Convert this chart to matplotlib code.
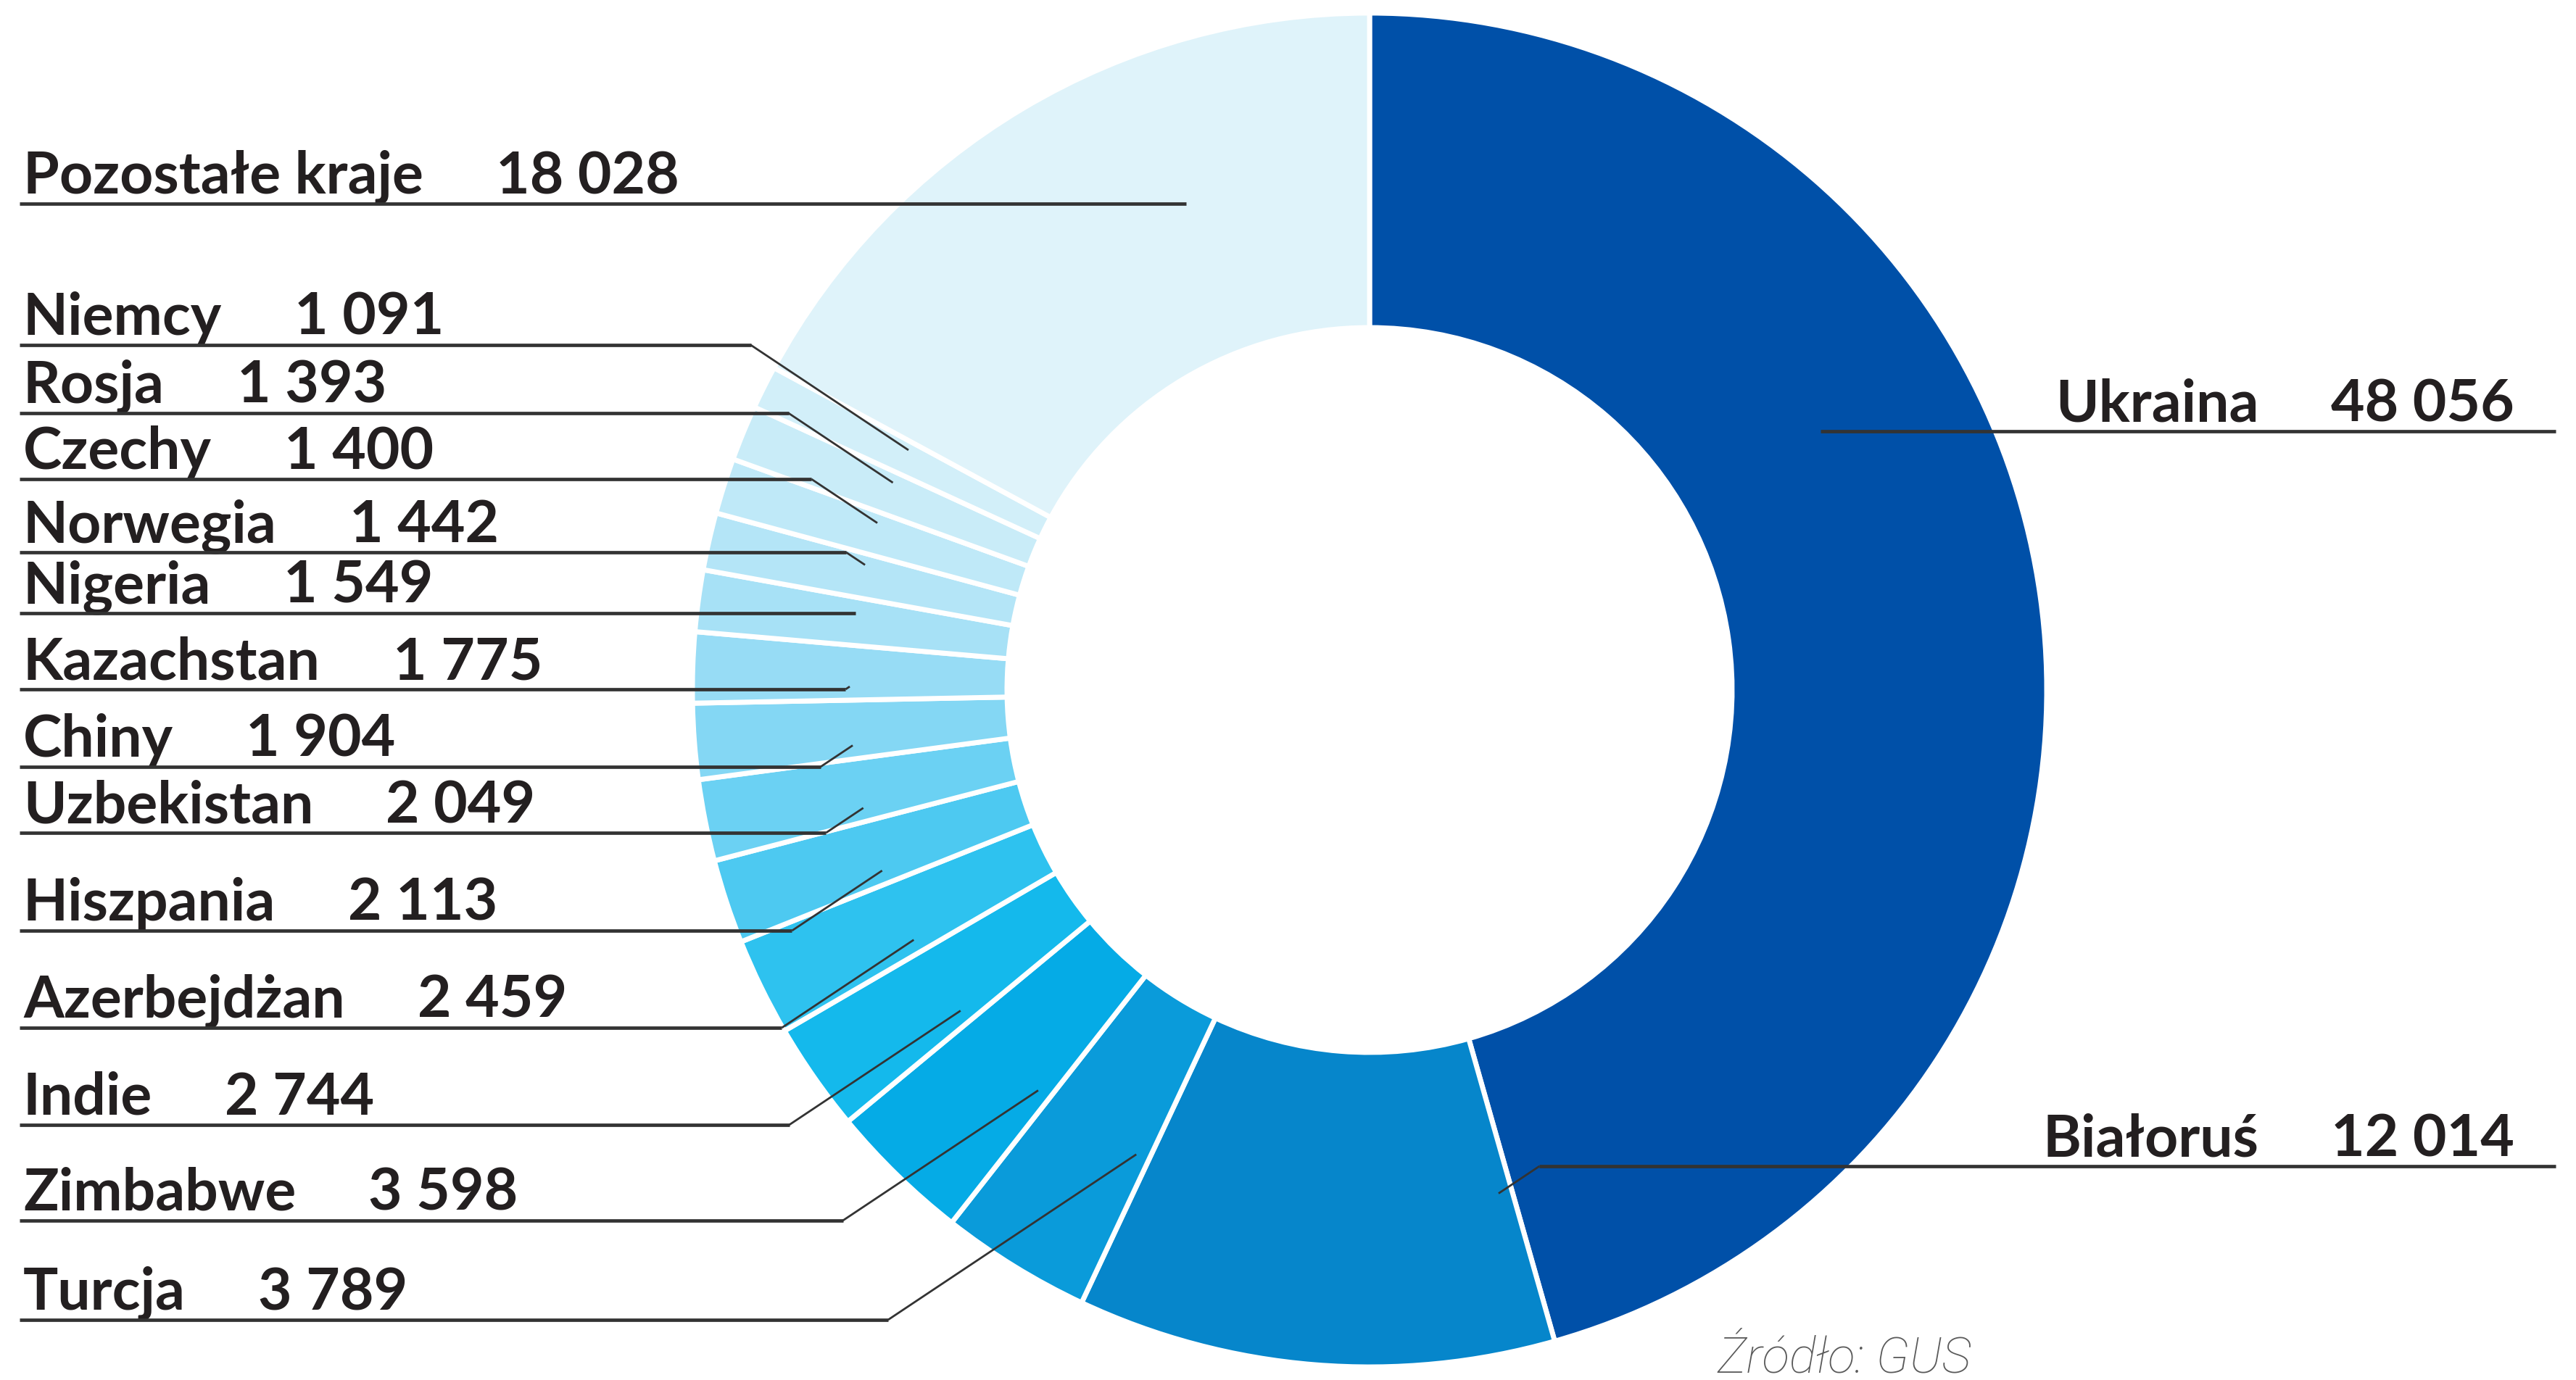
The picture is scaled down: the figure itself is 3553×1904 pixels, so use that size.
import numpy as np
import matplotlib.pyplot as plt

W, H = 3553, 1904

# data (clockwise from 12 o'clock)
countries = ["Ukraina", "Białoruś", "Turcja", "Zimbabwe", "Indie", "Azerbejdżan",
             "Hiszpania", "Uzbekistan", "Chiny", "Kazachstan", "Nigeria", "Norwegia",
             "Czechy", "Rosja", "Niemcy", "Pozostałe kraje"]
values = [48056, 12014, 3789, 3598, 2744, 2459, 2113, 2049, 1904, 1775, 1549,
          1442, 1400, 1393, 1091, 18028]
colors = ["#0050a8", "#0686cb", "#0a9bda", "#05abe6", "#14b9ec", "#2ec2ef",
          "#4dc9f1", "#6bd1f3", "#84d7f4", "#97dcf5", "#a7e1f6", "#b4e5f7",
          "#bfe9f8", "#c9ecf8", "#d2eff9", "#dff3fa"]

# label layout: side and underline row (pixels from top)
label_side = ["R", "R"] + ["L"] * 14
label_row = [595, 1609, 1821, 1684, 1552, 1418, 1284, 1149, 1058, 951, 846,
             762, 661, 570, 476, 281]

cx, cy = 1889, H - 952
r_out, r_in = 934, 500
r_mid = (r_out + r_in) / 2

plt.rcParams['font.family'] = ['Lato', 'DejaVu Sans']
fig = plt.figure(figsize=(W / 100, H / 100), dpi=100)
ax = fig.add_axes([0, 0, 1, 1])

wedges, _ = ax.pie(values, colors=colors, startangle=90, counterclock=False,
                   radius=r_out, center=(cx, cy),
                   wedgeprops=dict(width=r_out - r_in, edgecolor="white", linewidth=5))
ax.set_xlim(0, W)
ax.set_ylim(0, H)
ax.set_aspect("equal")
ax.axis("off")

rend = fig.canvas.get_renderer()
fs = 58
gap = 100
line_col = "#333333"
txt_col = "#231f20"

for name, v, side, row, w in zip(countries, values, label_side, label_row, wedges):
    yl = H - row
    ytxt = yl + 14
    num = f"{v:,}".replace(",", " ")
    if side == "L":
        t1 = ax.text(32, ytxt, name, fontsize=fs, fontweight="bold", color=txt_col,
                     ha="left", va="baseline")
        x1 = t1.get_window_extent(rend).x1
        t2 = ax.text(x1 + gap, ytxt, num, fontsize=fs, fontweight="bold",
                     color=txt_col, ha="left", va="baseline")
        text_edge = t2.get_window_extent(rend).x1
    else:
        t2 = ax.text(3468, ytxt, num, fontsize=fs, fontweight="bold", color=txt_col,
                     ha="right", va="baseline")
        x0 = t2.get_window_extent(rend).x0
        t1 = ax.text(x0 - gap, ytxt, name, fontsize=fs, fontweight="bold",
                     color=txt_col, ha="right", va="baseline")
        text_edge = t1.get_window_extent(rend).x0

    # point inside the slice closest to the label row
    a1, a2 = w.theta1, w.theta2
    phi = np.degrees(np.arcsin(np.clip((yl - cy) / r_mid, -1, 1)))
    target = phi if side == "R" else 180 - phi
    mid = (a1 + a2) / 2
    target = target + 360 * np.round((mid - target) / 360)
    m = min(1.5, (a2 - a1) / 4)
    a = np.clip(target, a1 + m, a2 - m)
    ex = cx + r_mid * np.cos(np.radians(a))
    ey = cy + r_mid * np.sin(np.radians(a))
    dy = abs(ey - yl)

    if side == "L":
        start = 27
        if dy < 2:
            xs, ys = [start, ex], [yl, yl]
        else:
            kx = max(ex - 1.5 * dy, text_edge + 30)
            xs, ys = [start, kx, ex], [yl, yl, ey]
    else:
        start = 3525
        if dy < 2:
            xs, ys = [start, ex], [yl, yl]
        else:
            kx = min(ex + 1.5 * dy, text_edge - 30)
            xs, ys = [start, kx, ex], [yl, yl, ey]
    ax.plot(xs[:2], ys[:2], color=line_col, lw=3.4, solid_capstyle="butt", zorder=5)
    if len(xs) == 3:
        ax.plot(xs[1:], ys[1:], color=line_col, lw=2, solid_capstyle="butt", zorder=5)

ax.text(2368, H - 1893, "Źródło: GUS", fontsize=50, style="italic", fontweight="light",
        color="#5a5a5a", family=["Roboto", "DejaVu Sans"], ha="left", va="baseline")

fig.savefig("out.png", dpi=100, facecolor="white")
